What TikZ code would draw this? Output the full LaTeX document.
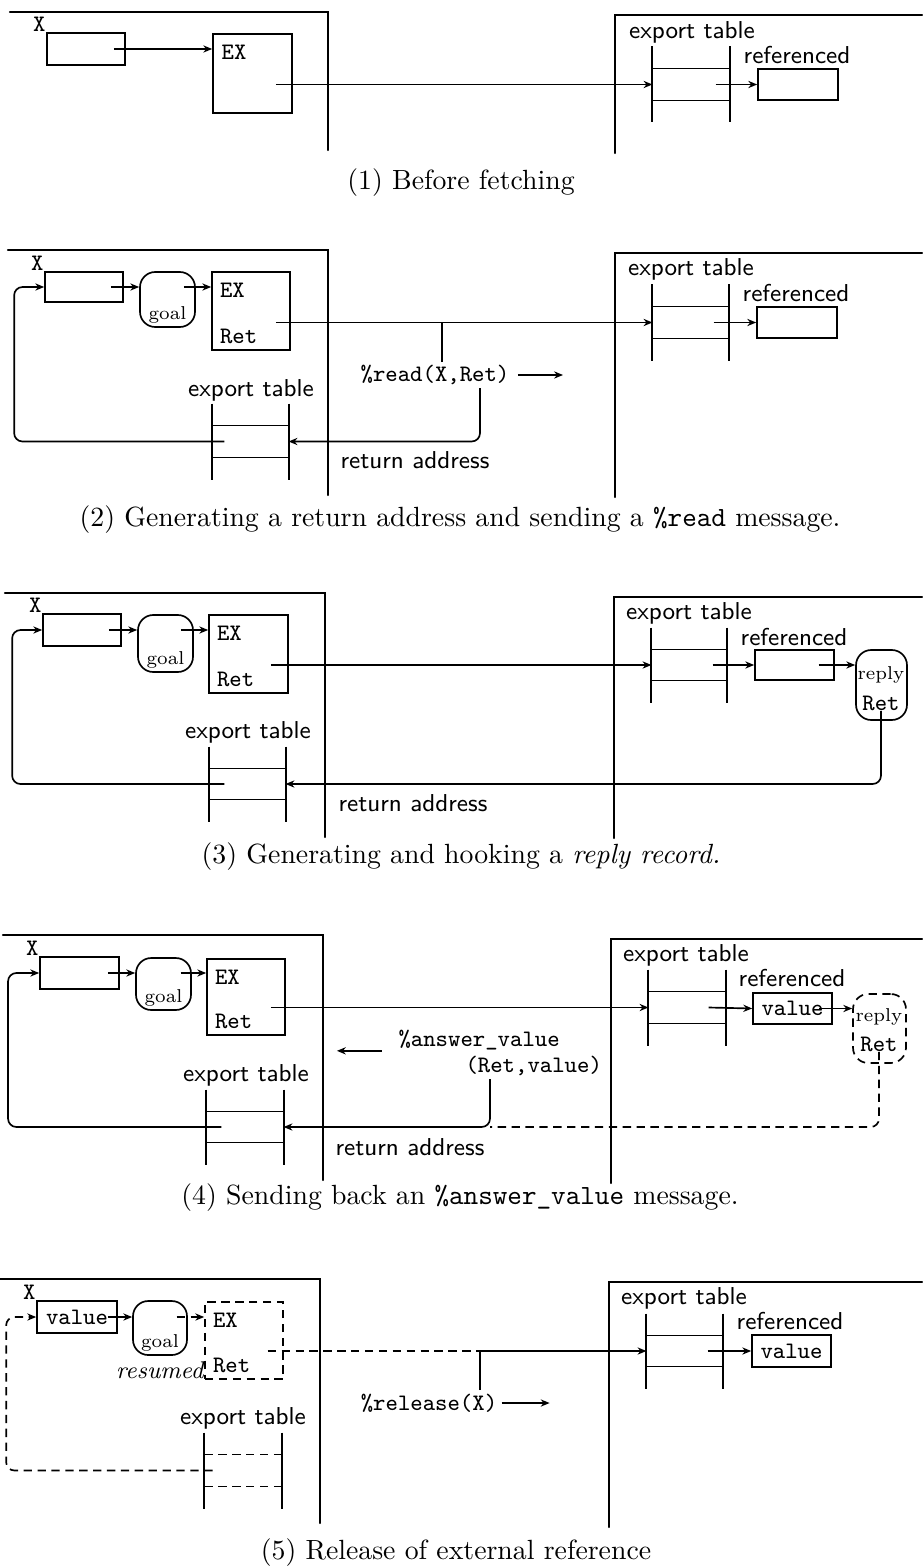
\documentclass[tikz,border=0pt]{standalone}
\usepackage{tikz}
\usetikzlibrary{arrows.meta,fit,positioning}
\tikzset{
  frame-line/.style={thick,line cap=round},
  cell-box/.style={draw,semithick,inner sep=0pt},
  goal-box/.style={draw,semithick,rounded corners=5.5pt,inner sep=0pt},
  tab-cell/.style={inner sep=0pt},
  dashed-line/.style={dash pattern=on 3pt off 2pt},
  arrow/.style={-{Stealth[length=3.2pt,width=2.6pt]},semithick},
  txt-sans/.style={font=\fontsize{8.8}{10}\selectfont\sffamily,inner sep=0pt},
  txt-tt/.style={font=\fontsize{8.5}{10}\selectfont\ttfamily,inner sep=0pt},
  txt-tiny/.style={font=\fontsize{6.7}{8}\selectfont,inner sep=0pt},
  txt-it/.style={font=\fontsize{8.7}{10}\selectfont\itshape,inner sep=0pt},
  txt-cap/.style={font=\fontsize{10}{12}\selectfont,inner sep=0pt},
}
% export table: two rails through the cell, two lines round the cell
\newcommand{\tabrails}[2][]{%
  \draw[semithick,#1] (#2.north west) -- (#2.north east)
    (#2.south west) -- (#2.south east);
  \draw[line width=0.7pt] ([yshift=7.9pt]#2.north west) -- ([yshift=-7.9pt]#2.south west)
    ([yshift=7.9pt]#2.north east) -- ([yshift=-7.9pt]#2.south east);}

\begin{document}
\begin{tikzpicture}[x=0.36pt,y=-0.36pt]
  \useasboundingbox (0,0) rectangle (922,1568);
  % (1)
  \draw[frame-line] (10,12) -- (328,12) -- (328,150);
  \draw[frame-line] (922,15) -- (615,15) -- (615,153);
  \node[cell-box,fit={(47,33) (125,65)}] (p1-x) {};
  \node[txt-tt,anchor=south east] (p1-xl) at (p1-x.north west) {X};
  \node[cell-box,fit={(213,34) (292,113)}] (p1-ex) {};
  \node[txt-tt,anchor=north west] (p1-ext) at ([xshift=3.2pt,yshift=-4pt]p1-ex.north west) {EX};
  \node[tab-cell,fit={(653,69) (729,100)}] (p1-rtab) {};
  \tabrails{p1-rtab}
  \node[cell-box,fit={(758,69) (838,100)}] (p1-ref) {};
  \node[txt-sans] (p1-rtabl) at (692,32) {export table};
  \node[txt-sans] (p1-refl) at (797,55) {referenced};
  \draw[arrow] ([xshift=-4.3pt]p1-x.east) -- (p1-ex.west |- p1-x.east);
  \draw[arrow] ([xshift=-6.1pt]p1-ex.east |- p1-rtab.west) -- (p1-rtab.west);
  \draw[arrow] ([xshift=-5pt]p1-rtab.east) -- (p1-ref.west);
  \node[txt-cap] (cap1) at (461,183) {(1) Before fetching};

  % (2)
  \draw[frame-line] (8,250) -- (328,250) -- (328,495);
  \draw[frame-line] (922,253) -- (615,253) -- (615,497);
  \node[cell-box,fit={(45,272) (123,302)}] (p2-x) {};
  \node[txt-tt,anchor=south east] (p2-xl) at (p2-x.north west) {X};
  \node[goal-box,fit={(140,272) (195,327)}] (p2-goal) {};
  \node[txt-tiny,anchor=south] (p2-goall) at ([yshift=1.5pt]p2-goal.south) {goal};
  \node[cell-box,fit={(212,272) (290,350)}] (p2-ex) {};
  \node[txt-tt,anchor=north west] (p2-ext) at ([xshift=3pt,yshift=-4pt]p2-ex.north west) {EX};
  \node[txt-tt,anchor=south west] (p2-exr) at ([xshift=3pt,yshift=2.2pt]p2-ex.south west) {Ret};
  \node[tab-cell,fit={(213,426) (288,457)}] (p2-ltab) {};
  \tabrails{p2-ltab}
  \node[tab-cell,fit={(653,307) (728,338)}] (p2-rtab) {};
  \tabrails{p2-rtab}
  \node[cell-box,fit={(757,307) (837,338)}] (p2-ref) {};
  \node[txt-sans] (p2-ltabl) at (251,390) {export table};
  \node[txt-sans] (p2-rtabl) at (691,269) {export table};
  \node[txt-sans] (p2-refl) at (796,293) {referenced};
  \node[txt-sans] (p2-retl) at (415,460) {return address};
  \node[txt-tt] (p2-read) at (435,375) {\%read(X,Ret)};
  \coordinate (p2-rx) at (442,362);
  \coordinate (p2-rret) at (480,388);
  \draw[arrow] ([xshift=-4.7pt]p2-x.east) -- (p2-goal.west |- p2-x.east);
  \draw[arrow] ([xshift=-4.3pt]p2-goal.east |- p2-x.east) -- (p2-ex.west |- p2-x.east);
  \draw[arrow] ([xshift=-5.4pt]p2-ex.east |- p2-rtab.west) -- (p2-rtab.west);
  \draw[semithick] (p2-rx) -- (p2-rx |- p2-rtab.west);
  \draw[arrow] ([xshift=-5.4pt]p2-rtab.east) -- (p2-ref.west);
  \draw[arrow] ([xshift=2.9pt]p2-read.east) -- ++(45,0);
  \draw[arrow,rounded corners=3pt] (p2-rret) |- (p2-ltab.east);
  \draw[arrow,rounded corners=3pt] ([xshift=4.3pt]p2-ltab.west) -| ([xshift=-10.8pt]p2-x.west) -- (p2-x.west);
  \node[txt-cap] (cap2) at (460,520) {(2) Generating a return address and sending a \texttt{\%read} message.};

  % (3)
  \draw[frame-line] (5,593) -- (325,593) -- (325,837);
  \draw[frame-line] (922,597) -- (614,597) -- (614,838);
  \node[cell-box,fit={(43,614) (121,646)}] (p3-x) {};
  \node[txt-tt,anchor=south east] (p3-xl) at (p3-x.north west) {X};
  \node[goal-box,fit={(138,615) (193,672)}] (p3-goal) {};
  \node[txt-tiny,anchor=south] (p3-goall) at ([yshift=1.5pt]p3-goal.south) {goal};
  \node[cell-box,fit={(209,615) (288,693)}] (p3-ex) {};
  \node[txt-tt,anchor=north west] (p3-ext) at ([xshift=3pt,yshift=-4pt]p3-ex.north west) {EX};
  \node[txt-tt,anchor=south west] (p3-exr) at ([xshift=3pt,yshift=2.2pt]p3-ex.south west) {Ret};
  \node[tab-cell,fit={(210,769) (285,799)}] (p3-ltab) {};
  \tabrails{p3-ltab}
  \node[tab-cell,fit={(652,650) (726,680)}] (p3-rtab) {};
  \tabrails{p3-rtab}
  \node[cell-box,fit={(755,650) (834,680)}] (p3-ref) {};
  \node[goal-box,fit={(856,650) (907,720)}] (p3-reply) {};
  \node[txt-tiny] (p3-replyl) at (881,675) {reply};
  \node[txt-tt] (p3-rret) at (881,703) {Ret};
  \node[txt-sans] (p3-ltabl) at (248,732) {export table};
  \node[txt-sans] (p3-rtabl) at (689,613) {export table};
  \node[txt-sans] (p3-refl) at (794,637) {referenced};
  \node[txt-sans] (p3-retl) at (413,803) {return address};
  \draw[arrow] ([xshift=-4.7pt]p3-x.east) -- (p3-goal.west |- p3-x.east);
  \draw[arrow] ([xshift=-4.7pt]p3-goal.east |- p3-x.east) -- (p3-ex.west |- p3-x.east);
  \draw[arrow] ([xshift=-6.5pt]p3-ex.east |- p3-rtab.west) -- (p3-rtab.west);
  \draw[arrow] ([xshift=-5pt]p3-rtab.east) -- (p3-ref.west);
  \draw[arrow] ([xshift=-5.8pt]p3-ref.east) -- (p3-reply.west |- p3-ref.east);
  \draw[arrow,rounded corners=3pt] (p3-rret.south) |- (p3-ltab.east);
  \draw[arrow,rounded corners=3pt] ([xshift=5.4pt]p3-ltab.west) -| ([xshift=-10.8pt]p3-x.west) -- (p3-x.west);
  \node[txt-cap] (cap3) at (461,857) {(3) Generating and hooking a \textit{reply record.}};

  % (4)
  \draw[frame-line] (3,935) -- (323,935) -- (323,1180);
  \draw[frame-line] (922,939) -- (611,939) -- (611,1183);
  \node[cell-box,fit={(40,957) (119,989)}] (p4-x) {};
  \node[txt-tt,anchor=south east] (p4-xl) at (p4-x.north west) {X};
  \node[goal-box,fit={(136,958) (191,1010)}] (p4-goal) {};
  \node[txt-tiny,anchor=south] (p4-goall) at ([yshift=1.5pt]p4-goal.south) {goal};
  \node[cell-box,fit={(207,959) (285,1035)}] (p4-ex) {};
  \node[txt-tt,anchor=north west] (p4-ext) at ([xshift=3pt,yshift=-4pt]p4-ex.north west) {EX};
  \node[txt-tt,anchor=south west] (p4-exr) at ([xshift=3pt,yshift=2.2pt]p4-ex.south west) {Ret};
  \node[tab-cell,fit={(207,1112) (283,1142)}] (p4-ltab) {};
  \tabrails{p4-ltab}
  \node[tab-cell,fit={(649,992) (725,1023)}] (p4-rtab) {};
  \tabrails{p4-rtab}
  \node[cell-box,fit={(753,993) (832,1024)}] (p4-ref) {};
  \node[txt-tt] (p4-val) at (p4-ref) {value};
  \node[goal-box,dashed-line,fit={(853,994) (906,1063)}] (p4-reply) {};
  \node[txt-tiny] (p4-replyl) at (879,1017) {reply};
  \node[txt-tt] (p4-rret) at (879,1044) {Ret};
  \node[txt-sans] (p4-ltabl) at (246,1075) {export table};
  \node[txt-sans] (p4-rtabl) at (686,955) {export table};
  \node[txt-sans] (p4-refl) at (792,978) {referenced};
  \node[txt-sans] (p4-retl) at (410,1147) {return address};
  \node[txt-tt,anchor=west] (p4-ans) at (398,1040) {\%answer\_value};
  \node[txt-tt,anchor=west] (p4-args) at (465,1066) {(Ret,value)};
  \coordinate (p4-aret) at (490,1079);
  \draw[arrow] ([xshift=-4.3pt]p4-x.east) -- (p4-goal.west |- p4-x.east);
  \draw[arrow] ([xshift=-4pt]p4-goal.east |- p4-x.east) -- (p4-ex.west |- p4-x.east);
  \draw[arrow] ([xshift=-5.4pt]p4-ex.east |- p4-rtab.west) -- (p4-rtab.west);
  \draw[arrow] ([xshift=-6.1pt]p4-rtab.east) -- (p4-ref.west);
  \draw[arrow] ([xshift=-5pt]p4-ref.east) -- (p4-reply.west |- p4-ref.east);
  \draw[arrow] ([xshift=-5.8pt,yshift=-3.9pt]p4-ans.west) -- ++(-45,0);
  \draw[arrow,rounded corners=3pt] (p4-aret) |- (p4-ltab.east);
  \draw[semithick,dashed-line,rounded corners=3pt] (p4-rret.south) |- (p4-aret |- p4-ltab.east);
  \draw[arrow,rounded corners=3pt] ([xshift=5.4pt]p4-ltab.west) -| ([xshift=-11.2pt]p4-x.west) -- (p4-x.west);
  \node[txt-cap] (cap4) at (460,1198) {(4) Sending back an \texttt{\%answer\_value} message.};

  % (5)
  \draw[frame-line] (0,1279) -- (320,1279) -- (320,1523);
  \draw[frame-line] (922,1282) -- (609,1282) -- (609,1527);
  \node[cell-box,fit={(37,1301) (117,1333)}] (p5-x) {};
  \node[txt-tt] (p5-xv) at (p5-x) {value};
  \node[txt-tt,anchor=south east] (p5-xl) at (p5-x.north west) {X};
  \node[goal-box,fit={(133,1301) (187,1355)}] (p5-goal) {};
  \node[txt-tiny,anchor=south] (p5-goall) at ([yshift=1.5pt]p5-goal.south) {goal};
  \node[cell-box,dashed-line,fit={(205,1302) (283,1379)}] (p5-ex) {};
  \node[txt-tt,anchor=north west] (p5-ext) at ([xshift=3pt,yshift=-4pt]p5-ex.north west) {EX};
  \node[txt-tt,anchor=south west] (p5-exr) at ([xshift=3pt,yshift=2.2pt]p5-ex.south west) {Ret};
  \node[txt-it,anchor=east] (p5-res) at (204,1370) {resumed};
  \node[tab-cell,fit={(205,1455) (281,1486)}] (p5-ltab) {};
  \tabrails[dashed-line]{p5-ltab}
  \node[tab-cell,fit={(647,1336) (722,1366)}] (p5-rtab) {};
  \tabrails{p5-rtab}
  \node[cell-box,fit={(752,1335) (831,1367)}] (p5-ref) {};
  \node[txt-tt] (p5-val) at (p5-ref) {value};
  \node[txt-sans] (p5-ltabl) at (243,1418) {export table};
  \node[txt-sans] (p5-rtabl) at (684,1298) {export table};
  \node[txt-sans] (p5-refl) at (790,1321) {referenced};
  \node[txt-tt] (p5-rel) at (429,1403) {\%release(X)};
  \coordinate (p5-rx) at (480,1390);
  \draw[arrow] ([xshift=-3.6pt]p5-x.east) -- (p5-goal.west |- p5-x.east);
  \draw[arrow,dashed-line] ([xshift=-4pt]p5-goal.east |- p5-x.east) -- (p5-ex.west |- p5-x.east);
  \draw[semithick,dashed-line] ([xshift=-5.8pt]p5-ex.east |- p5-rtab.west) -- (p5-rx |- p5-rtab.west);
  \draw[arrow] (p5-rx) |- (p5-rtab.west);
  \draw[arrow] ([xshift=-5.4pt]p5-rtab.east) -- (p5-ref.west);
  \draw[arrow] ([xshift=1.4pt]p5-rel.east) -- ++(48,0);
  \draw[arrow,dashed-line,rounded corners=3pt] ([xshift=2.9pt]p5-ltab.west) -| ([xshift=-10.8pt]p5-x.west) -- (p5-x.west);
  \node[txt-cap] (cap5) at (456,1553) {(5) Release of external reference};
\end{tikzpicture}
\end{document}
